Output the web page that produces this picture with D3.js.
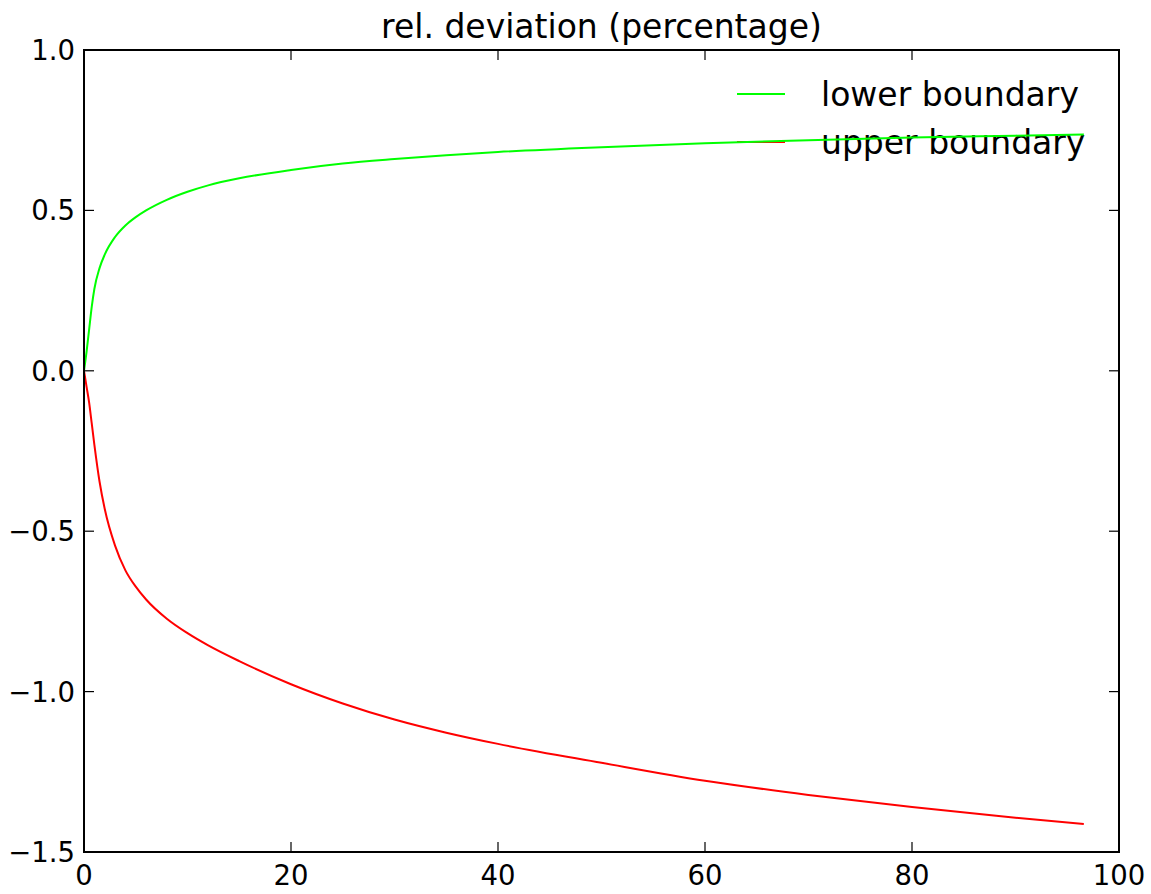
<!DOCTYPE html>
<html>
<head>
<meta charset="utf-8">
<script src="https://cdn.jsdelivr.net/npm/d3@7"></script>
<style>
  body { margin: 0; background: #fff; }
  text { font-family: "DejaVu Sans", sans-serif; fill: #000; }
</style>
</head>
<body>
<svg id="chart"></svg>
<script>
// values
let xs = [0, 0.25, 0.5, 0.75, 1, 1.5, 2, 3, 4, 5, 6, 8, 10, 12, 15, 20, 25, 30, 35, 40, 50, 60, 70, 80, 90, 96.6];
let lowerBoundary = [0, 0.06, 0.13, 0.2, 0.255, 0.32, 0.362, 0.417, 0.453, 0.479, 0.5, 0.533, 0.558, 0.578, 0.6, 0.626, 0.646, 0.66, 0.672, 0.682, 0.697, 0.709, 0.719, 0.727, 0.733, 0.737];
let upperBoundary = [0, -0.05, -0.1, -0.165, -0.23, -0.345, -0.43, -0.545, -0.622, -0.673, -0.713, -0.773, -0.818, -0.856, -0.905, -0.977, -1.037, -1.087, -1.128, -1.163, -1.222, -1.278, -1.322, -1.36, -1.393, -1.413];
let xTicks = [0, 20, 40, 60, 80, 100];
let yTicks = [1.0, 0.5, 0.0, -0.5, -1.0, -1.5];
let seriesNames = ["lower boundary", "upper boundary"];
let seriesColors = ["#00ff00", "#ff0000"];

let width = 1151;
let height = 894;
let margin = {left: 84, top: 50, right: 32, bottom: 42};

let svg = d3.select("#chart")
    .attr("width", width)
    .attr("height", height);

let x = d3.scaleLinear().domain([0, 100]).range([margin.left, width - margin.right]);
let y = d3.scaleLinear().domain([-1.5, 1.0]).range([height - margin.bottom, margin.top]);

let fmt = function(d){
    return d3.format(".1f")(d).replace("-", "\u2212");
};

// ticks on all four sides, pointing inward
let tickLen = 10;
let gx = svg.append("g");
xTicks.forEach(function(t){
    gx.append("line").attr("x1", x(t)).attr("x2", x(t))
        .attr("y1", y(-1.5)).attr("y2", y(-1.5) - tickLen)
        .attr("stroke", "#000").attr("stroke-width", 1.2);
    gx.append("line").attr("x1", x(t)).attr("x2", x(t))
        .attr("y1", y(1.0)).attr("y2", y(1.0) + tickLen)
        .attr("stroke", "#000").attr("stroke-width", 1.2);
    gx.append("text").attr("x", x(t)).attr("y", y(-1.5) + 33)
        .attr("text-anchor", "middle")
        .attr("font-size", "27.5px")
        .text(t);
});

let gy = svg.append("g");
yTicks.forEach(function(t){
    gy.append("line").attr("x1", x(0)).attr("x2", x(0) + tickLen)
        .attr("y1", y(t)).attr("y2", y(t))
        .attr("stroke", "#000").attr("stroke-width", 1.2);
    gy.append("line").attr("x1", x(100)).attr("x2", x(100) - tickLen)
        .attr("y1", y(t)).attr("y2", y(t))
        .attr("stroke", "#000").attr("stroke-width", 1.2);
    gy.append("text").attr("x", x(0) - 9).attr("y", y(t))
        .attr("text-anchor", "end")
        .attr("dominant-baseline", "central")
        .attr("font-size", "27.5px")
        .text(fmt(t));
});

// title
svg.append("text")
    .attr("x", (x(0) + x(100)) / 2)
    .attr("y", 38)
    .attr("text-anchor", "middle")
    .attr("font-size", "33px")
    .text("rel. deviation (percentage)");

// legend (drawn under the lines, as in the picture)
let legend = svg.append("g");
seriesNames.forEach(function(name, i){
    let ly = 94 + i * 48;
    legend.append("line")
        .attr("x1", 737).attr("x2", 785)
        .attr("y1", ly).attr("y2", ly)
        .attr("stroke", seriesColors[i]).attr("stroke-width", 2);
    legend.append("text")
        .attr("x", 821).attr("y", ly)
        .attr("dominant-baseline", "central")
        .attr("font-size", "33px")
        .text(name);
});

// curves
let series = [lowerBoundary, upperBoundary];
let line = d3.line()
    .x(function(d){ return x(d[0]); })
    .y(function(d){ return y(d[1]); })
    .curve(d3.curveMonotoneX);

series.forEach(function(vals, i){
    svg.append("path")
        .datum(xs.map(function(v, j){ return [v, vals[j]]; }))
        .attr("d", line)
        .attr("fill", "none")
        .attr("stroke", seriesColors[i])
        .attr("stroke-width", 2);
});

// frame
svg.append("rect")
    .attr("x", x(0)).attr("y", y(1.0))
    .attr("width", x(100) - x(0))
    .attr("height", y(-1.5) - y(1.0))
    .attr("fill", "none")
    .attr("stroke", "#000")
    .attr("stroke-width", 2);
</script>
</body>
</html>
